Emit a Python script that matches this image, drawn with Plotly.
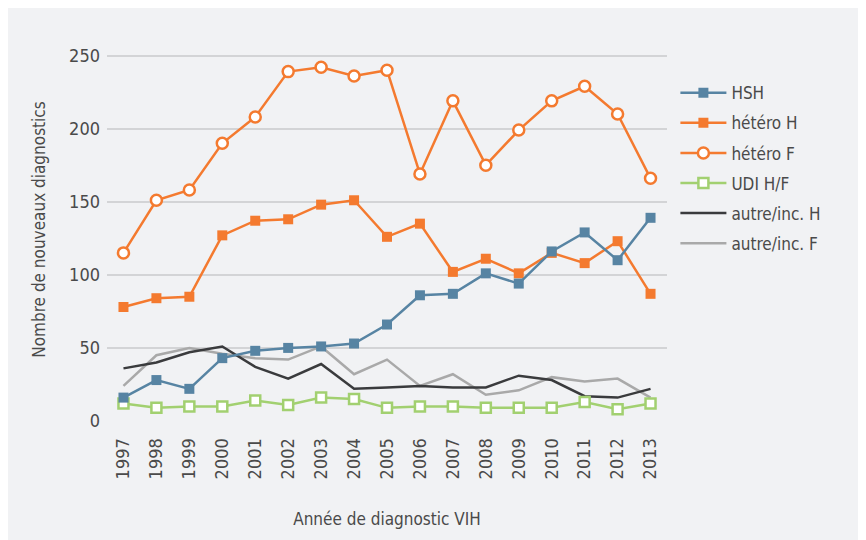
import plotly.graph_objects as go

years = [str(y) for y in range(1997, 2014)]
hsh = [16, 28, 22, 43, 48, 50, 51, 53, 66, 86, 87, 101, 94, 116, 129, 110, 139]
hetero_h = [78, 84, 85, 127, 137, 138, 148, 151, 126, 135, 102, 111, 101, 115, 108, 123, 87]
hetero_f = [115, 151, 158, 190, 208, 239, 242, 236, 240, 169, 219, 175, 199, 219, 229, 210, 166]
udi = [12, 9, 10, 10, 14, 11, 16, 15, 9, 10, 10, 9, 9, 9, 13, 8, 12]
autre_h = [36, 40, 47, 51, 37, 29, 39, 22, 23, 24, 23, 23, 31, 28, 17, 16, 22]
autre_f = [24, 45, 50, 46, 43, 42, 51, 32, 42, 24, 32, 18, 21, 30, 27, 29, 16]
y_ticks = [0, 50, 100, 150, 200, 250]

FONT = "DejaVu Sans Condensed, Roboto, sans-serif"
BG = "#f1f2f4"
TXT = "#4a4a4a"

fig = go.Figure()

def add(name, vals, color, rank, symbol=None, fill=None, width=2.5):
    mode = "lines+markers" if symbol else "lines"
    marker = None
    if symbol:
        marker = dict(symbol=symbol, size=10 if symbol == "square" else 11,
                      color=fill if fill else color,
                      line=dict(color=color, width=2.5 if fill else 0))
    fig.add_trace(go.Scatter(x=years, y=vals, name=name, mode=mode,
                             line=dict(color=color, width=width),
                             marker=marker, legendgroup=name, legendrank=rank))

add("autre/inc. F", autre_f, "#a9a9a9", 6)
add("autre/inc. H", autre_h, "#3a3b3d", 5)
add("UDI H/F", udi, "#a2d070", 4, "square", "white")
add("hétéro F", hetero_f, "#f47a2f", 3, "circle", "white")
add("hétéro H", hetero_h, "#f47a2f", 2, "square")
add("HSH", hsh, "#5784a3", 1, "square")

fig.add_shape(type="rect", xref="paper", yref="paper", x0=-0.1821, x1=1.6,
              y0=-0.6, y1=1.0836, fillcolor=BG, line=dict(width=0), layer="below")

fig.update_layout(
    width=866, height=540,
    margin=dict(l=99, r=207, t=30, b=127),
    paper_bgcolor="white", plot_bgcolor=BG,
    font=dict(family=FONT, size=17, color=TXT),
    legend=dict(x=1.015, y=0.903, xanchor="left", yanchor="top",
                bgcolor="rgba(0,0,0,0)", traceorder="grouped",
                tracegroupgap=5, font=dict(size=17, color=TXT),
                itemwidth=46),
    xaxis=dict(type="category", tickangle=-90, showgrid=False,
               ticks="outside", ticklen=9, tickcolor="rgba(0,0,0,0)",
               range=[-0.5, 16.5], autorange=False,
               showline=False, zeroline=False, automargin=False,
               title=dict(text="Année de diagnostic VIH", font=dict(size=17), standoff=34),
               tickfont=dict(size=18)),
    yaxis=dict(range=[0, 262], tickvals=y_ticks, showgrid=True, gridcolor="#d3d4d6",
               gridwidth=1.5, ticks="", zeroline=False, showline=False, automargin=False,
               ticklabelstandoff=6,
               title=dict(text="Nombre de nouveaux diagnostics", font=dict(size=17), standoff=19),
               tickfont=dict(size=18)),
)

fig.write_html("out.html")
